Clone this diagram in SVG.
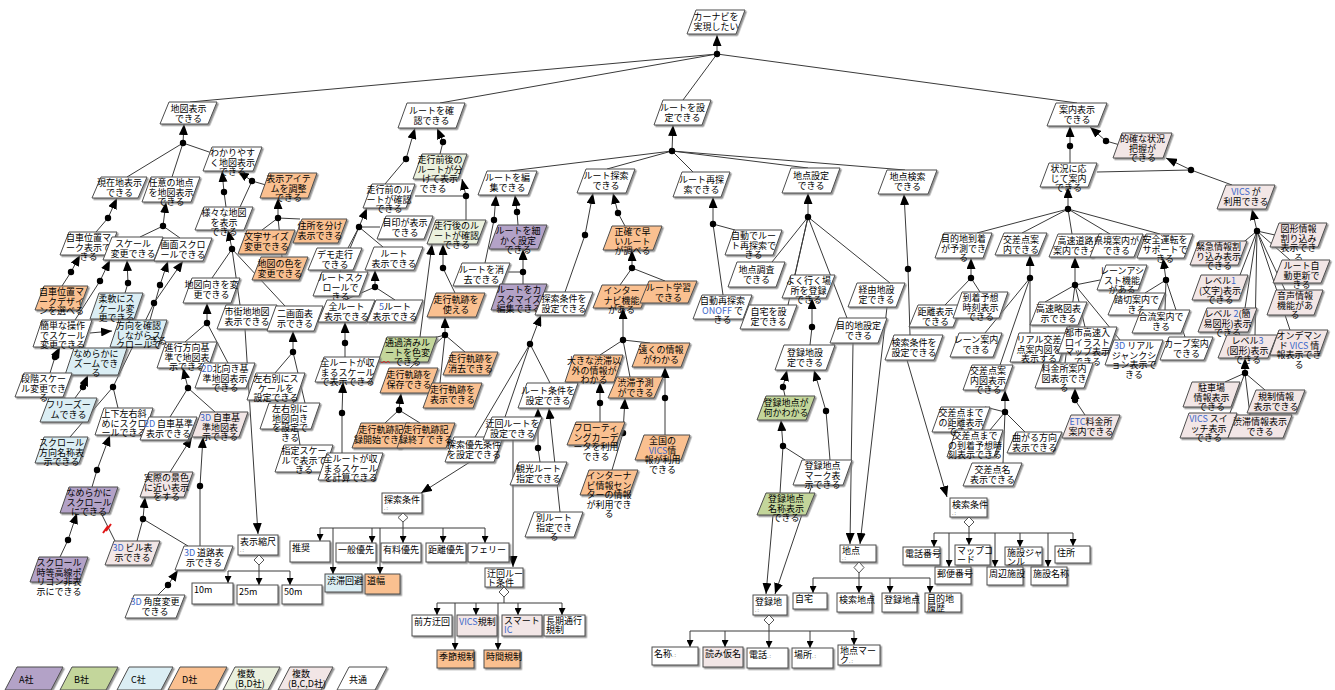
<svg xmlns="http://www.w3.org/2000/svg" width="1335" height="690" viewBox="0 0 1335 690">
<defs>
<filter id="sh" x="-10%" y="-10%" width="130%" height="150%"><feDropShadow dx="1.5" dy="1.5" stdDeviation="0.5" flood-color="#7a7a7a" flood-opacity="0.8"/></filter>
<marker id="a" viewBox="0 0 11 9" refX="11" refY="4.5" markerWidth="11" markerHeight="9" markerUnits="userSpaceOnUse" orient="auto"><path d="M0,0L11,4.5L0,9z" fill="#000"/></marker>
<marker id="s" viewBox="0 0 7 7" refX="7" refY="3.5" markerWidth="7" markerHeight="7" markerUnits="userSpaceOnUse" orient="auto"><path d="M0,0L7,3.5L0,7z" fill="#000"/></marker>
</defs>
<style>
text{font-family:"Noto Sans CJK JP","Noto Sans",sans-serif;font-size:9px;fill:#000}
.n polygon,.r rect{stroke:#4d4d4d;stroke-width:1;filter:url(#sh)}
.n text{text-anchor:middle}
.w polygon,.r rect{fill:#fff}
.p polygon{fill:#b3a2c7}
.g polygon{fill:#c3d69b}
.b polygon,.rb rect{fill:#dbeef4}
.o polygon,.ro rect{fill:#fac090}
.c polygon{fill:#ebf1de}
.k polygon,.rk rect{fill:#f2e6e6}
.e{fill:#3d68c9}
#links path{stroke:#3a3a3a;stroke-width:1;fill:none}
#links .ar{marker-end:url(#a)}
#links .sa{marker-end:url(#s)}
#links circle{fill:#000}
.dm{fill:#fff;stroke:#555}
.dt{font-size:5px;fill:#777}
.lg text{text-anchor:start}
</style>
<rect width="1335" height="690" fill="#fff"/>

<g id="links">
<!-- goal refinements: arrow into parent, dot, lines to children -->
<path class="ar" d="M717,54L717,35"/><path d="M717,54L190,102M717,54L440,103M717,54L683,100M717,54L1077,103"/><circle cx="717" cy="54" r="3.2"/>
<path class="ar" d="M183,143L184,124"/><path d="M183,143L127,177M183,143L172,177M183,143L212,153"/><circle cx="183" cy="143" r="3.2"/>
<path class="ar" d="M252,181L238,171"/><path d="M252,181L266,185M252,181L240,207"/><circle cx="252" cy="181" r="3.2"/>
<path class="ar" d="M224,192L222,171"/><path d="M224,192L226,207"/><circle cx="224" cy="192" r="3.2"/>
<path class="ar" d="M278,218L278,198"/><path d="M278,218L262,230M278,218L300,219M278,218L282,257"/><circle cx="278" cy="218" r="3.2"/>
<path class="ar" d="M108,218L117,198"/><path d="M108,218L96,232"/><circle cx="108" cy="218" r="3.2"/>
<path class="ar" d="M71,272L80,255"/><path d="M71,272L62,286"/><circle cx="71" cy="272" r="3.2"/>
<path class="ar" d="M163,226L166,202"/><path d="M163,226L140,237M163,226L180,238"/><circle cx="163" cy="226" r="3.2"/>
<path class="ar" d="M100,281L110,260"/><path d="M100,281L75,320"/><circle cx="100" cy="281" r="3.2"/>
<path class="ar" d="M128,283L127,260"/><path d="M128,283L125,293"/><circle cx="128" cy="283" r="3.2"/>
<path class="ar" d="M90,333L112,331"/>
<path class="ar" d="M55,357L60,347"/><path d="M55,357L50,373"/><circle cx="55" cy="357" r="3.2"/>
<path class="ar" d="M83,387L88,375"/><path d="M83,387L75,398"/><circle cx="83" cy="387" r="3.2"/>
<path class="ar" d="M160,285L168,261"/><path d="M160,285L150,320"/><circle cx="160" cy="285" r="3.2"/>
<path class="ar" d="M154,303L183,261"/><path d="M154,303L113,387L118,408M113,387L70,437"/><circle cx="154" cy="303" r="3.2"/><circle cx="113" cy="387" r="3.2"/>
<path class="ar" d="M97,470L110,435"/><path d="M97,470L92,487"/><circle cx="97" cy="470" r="3.2"/>
<path class="ar" d="M68,540L77,513"/><path d="M68,540L60,557"/><circle cx="68" cy="540" r="3.2"/>
<path d="M101,513L115,541"/>
<path class="ar" d="M232,249L228,230"/><path d="M232,249L212,278M232,249L240,305M232,249L285,306"/><circle cx="232" cy="249" r="3.2"/>
<path class="ar" d="M207,323L207,303"/><path d="M207,323L185,342M207,323L228,363"/><circle cx="207" cy="323" r="3.2"/>
<path class="ar" d="M188,388L183,368"/><path d="M188,388L170,417M188,388L215,412"/><circle cx="188" cy="388" r="3.2"/>
<path class="ar" d="M170,472L192,437"/>
<path class="ar" d="M200,486L203,437"/><path d="M200,486L200,546"/><circle cx="200" cy="486" r="3.2"/>
<path class="ar" d="M143,519L145,497"/><path d="M143,519L137,541M143,519L188,546"/><circle cx="143" cy="519" r="3.2"/>
<path class="ar" d="M168,585L178,570"/><path d="M168,585L158,595"/><circle cx="168" cy="585" r="3.2"/>
<path class="ar" d="M293,352L293,331"/><path d="M293,352L275,373M293,352L305,403"/><circle cx="293" cy="352" r="3.2"/>
<path d="M293,400L300,445"/>
<path class="ar" d="M245,329L258,534"/>
<path class="ar" d="M406,159L415,128"/><path d="M406,159L385,184"/><circle cx="406" cy="159" r="3.2"/>
<path class="ar" d="M443,142L437,128"/><path d="M443,142L440,154"/><circle cx="443" cy="142" r="3.2"/>
<path class="ar" d="M466,196L462,179"/><path d="M466,196L466,220M466,196L415,196"/><circle cx="466" cy="196" r="3.2"/>
<path class="ar" d="M359,227L367,208"/><path d="M359,227L380,227M359,227L383,247M359,227L348,248M359,227L340,272"/><circle cx="359" cy="227" r="3.2"/>
<path class="ar" d="M375,287L375,270"/><path d="M375,287L345,300M375,287L395,300"/><circle cx="375" cy="287" r="3.2"/>
<path class="ar" d="M345,343L345,322"/><path d="M345,343L345,357"/><circle cx="345" cy="343" r="3.2"/>
<path class="ar" d="M342,413L343,382"/><path d="M342,413L342,453"/><circle cx="342" cy="413" r="3.2"/>
<path class="ar" d="M420,337L432,244"/>
<path class="ar" d="M443,268L443,244"/><path d="M443,268L455,293"/><circle cx="443" cy="268" r="3.2"/>
<path class="ar" d="M445,335L445,317"/><path d="M445,335L425,340M445,335L465,352M445,335L410,368M445,335L440,383"/><circle cx="445" cy="335" r="3.2"/>
<path class="ar" d="M399,410L401,393"/><path d="M399,410L385,423M399,410L420,423"/><circle cx="399" cy="410" r="3.2"/>
<path class="ar" d="M672,151L673,125"/><path d="M672,151L510,171M672,151L607,169M672,151L693,172M672,151L808,168M672,151L905,170"/><circle cx="672" cy="151" r="3.2"/>
<path class="ar" d="M494,220L496,195"/><path d="M494,220L485,263"/><circle cx="494" cy="220" r="3.2"/>
<path class="ar" d="M517,212L515,195"/><path d="M517,212L518,225"/><circle cx="517" cy="212" r="3.2"/>
<path class="ar" d="M523,272L523,249"/><path d="M523,272L523,284M523,272L508,272"/><circle cx="523" cy="272" r="3.2"/>
<path class="ar" d="M585,235L593,193"/><path d="M585,235L565,292"/><circle cx="585" cy="235" r="3.2"/>
<path class="ar" d="M618,213L613,193"/><path d="M618,213L625,226"/><circle cx="618" cy="213" r="3.2"/>
<path class="ar" d="M632,268L632,250"/><path d="M632,268L620,285M632,268L665,281"/><circle cx="632" cy="268" r="3.2"/>
<path class="ar" d="M623,340L623,308"/><path d="M623,340L600,355M623,340L650,343M623,340L630,377"/><circle cx="623" cy="340" r="3.2"/>
<path class="ar" d="M600,403L600,382"/><path d="M600,403L600,422"/><circle cx="600" cy="403" r="3.2"/>
<path class="ar" d="M623,433L625,398"/><path d="M623,433L612,470"/><circle cx="623" cy="433" r="3.2"/>
<path class="ar" d="M665,398L665,367"/><path d="M665,398L665,435"/><circle cx="665" cy="398" r="3.2"/>
<path class="ar" d="M530,344L541,315"/><path d="M530,344L550,383M530,344L475,437M530,344L505,417"/><circle cx="530" cy="344" r="3.2"/>
<path class="ar" d="M538,448L538,408"/><path d="M538,448L540,462"/><circle cx="538" cy="448" r="3.2"/>
<path class="ar" d="M560,512L549,408"/>
<path class="ar" d="M470,462L421,493"/>
<path class="ar" d="M513,440L513,567"/>
<path class="ar" d="M713,224L713,197"/><path d="M713,224L735,230M713,224L723,295"/><circle cx="713" cy="224" r="3.2"/>
<path class="ar" d="M808,217L808,193"/><path d="M808,217L772,262M808,217L788,305M808,217L795,275M808,217L847,318M808,217L890,283"/><circle cx="808" cy="217" r="3.2"/>
<path class="ar" d="M812,327L812,298"/><path d="M812,327L810,345"/><circle cx="812" cy="327" r="3.2"/>
<path class="ar" d="M783,387L787,370"/><path d="M783,387L785,396"/><circle cx="783" cy="387" r="3.2"/>
<path class="ar" d="M826,411L814,370"/><path d="M826,411L830,460"/><circle cx="826" cy="411" r="3.2"/>
<path class="ar" d="M783,446L781,420"/><path d="M783,446L805,460M783,446L780,493"/><circle cx="783" cy="446" r="3.2"/>
<path class="ar" d="M908,269L904,194"/><path d="M908,269L910,335"/><circle cx="908" cy="269" r="3.2"/>
<path class="ar" d="M907,360L947,497"/>
<path class="ar" d="M773,515L766,594"/>
<path class="ar" d="M812,485L775,594"/>
<path class="ar" d="M853,343L850,544"/>
<path class="ar" d="M887,307L860,544"/>
<path class="ar" d="M1070,146L1070,126"/><path d="M1070,146L1070,163"/><circle cx="1070" cy="146" r="3.2"/>
<path class="ar" d="M1106,141L1090,127"/><path d="M1106,141L1120,145"/><circle cx="1106" cy="141" r="3.2"/>
<path class="ar" d="M1191,170L1166,158"/><path d="M1191,170L1097,172M1191,170L1232,185"/><circle cx="1191" cy="170" r="3.2"/>
<path class="ar" d="M1068,209L1068,187"/><path d="M1068,209L977,233M1068,209L1022,233M1068,209L1072,234M1068,209L1110,234M1068,209L1160,234"/><circle cx="1068" cy="209" r="3.2"/>
<path class="ar" d="M971,278L971,258"/><path d="M971,278L945,305M971,278L980,292"/><circle cx="971" cy="278" r="3.2"/>
<path class="ar" d="M1030,278L1030,255"/><path d="M1030,278L1030,333M1030,278L985,333M1030,278L1000,365"/><circle cx="1030" cy="278" r="3.2"/>
<path class="ar" d="M1075,285L1075,257"/><path d="M1075,285L1045,302M1075,285L1085,327M1075,285L1120,340M1075,285L1100,280M1075,285L1065,363"/><circle cx="1075" cy="285" r="3.2"/>
<path class="ar" d="M1075,400L1075,388"/><path d="M1075,400L1085,415"/><circle cx="1075" cy="400" r="3.2"/>
<path class="ar" d="M1166,280L1163,258"/><path d="M1166,280L1145,293M1166,280L1165,310M1166,280L1185,337"/><circle cx="1166" cy="280" r="3.2"/>
<path class="ar" d="M1005,412L1005,390"/><path d="M1005,412L985,407M1005,412L990,430M1005,412L1025,432M1005,412L1003,463"/><circle cx="1005" cy="412" r="3.2"/>
<path class="ar" d="M1257,231L1252,209"/><path d="M1257,231L1275,235M1257,231L1240,245M1257,231L1290,260M1257,231L1240,275M1257,231L1285,290M1257,231L1245,308M1257,231L1255,335M1257,231L1290,330"/><circle cx="1257" cy="231" r="3.2"/>
<path class="ar" d="M1245,373L1245,358"/><path d="M1245,373L1225,382M1245,373L1265,390M1245,373L1230,413M1245,373L1250,415"/><circle cx="1245" cy="373" r="3.2"/>
<!-- attribute trees of the data boxes -->
<path d="M259,565V571M228,571H290"/><path class="sa" d="M228,571V583"/><path class="sa" d="M259,571V585"/><path class="sa" d="M290,571V585"/>
<path d="M403,522V528M320,528H485"/><path class="sa" d="M320,528V541"/><path class="sa" d="M372,528V543"/><path class="sa" d="M403,528V543"/><path class="sa" d="M443,528V543"/><path class="sa" d="M485,528V543"/><path class="sa" d="M333,528V574"/><path class="sa" d="M380,528V574"/>
<path d="M504,597V603M437,603H562"/><path class="sa" d="M437,603V615"/><path class="sa" d="M476,603V615"/><path class="sa" d="M518,603V615"/><path class="sa" d="M562,603V615"/><path class="sa" d="M455,603V650"/><path class="sa" d="M498,603V650"/>
<path d="M859,573V578M813,578H930"/><path class="sa" d="M813,578V593"/><path class="sa" d="M859,578V593"/><path class="sa" d="M890,578V593"/><path class="sa" d="M930,578V593"/>
<path d="M769,625V631M690,631H854"/><path class="sa" d="M690,631V647"/><path class="sa" d="M725,631V647"/><path class="sa" d="M769,631V648"/><path class="sa" d="M810,631V648"/><path class="sa" d="M854,631V645"/>
<path d="M969,527V533M934,533H1073"/><path class="sa" d="M934,533V547"/><path class="sa" d="M969,533V545"/><path class="sa" d="M1020,533V547"/><path class="sa" d="M1073,533V546"/><path class="sa" d="M949,533V567"/><path class="sa" d="M995,533V567"/><path class="sa" d="M1048,533V567"/>
</g>

<g id="nodes">
<g id="n-root" class="n w" transform="translate(687,10)"><polygon points="9,0 58,0 49,24 0,24"/><text x="29" y="10">カーナビを<tspan x="29" dy="9.5">実現したい</tspan></text></g>
<g id="n-map" class="n w" transform="translate(160,102)"><polygon points="9,0 57,0 48,22 0,22"/><text x="28.5" y="10">地図表示<tspan x="28.5" dy="9.5">できる</tspan></text></g>
<g id="n-rchk" class="n w" transform="translate(398,103)"><polygon points="9,0 67,0 58,25 0,25"/><text x="33.5" y="11">ルートを確<tspan x="33.5" dy="9.5">認できる</tspan></text></g>
<g id="n-rset" class="n w" transform="translate(654,100)"><polygon points="9,0 57,0 48,25 0,25"/><text x="28.5" y="11">ルートを設<tspan x="28.5" dy="9.5">定できる</tspan></text></g>
<g id="n-guide" class="n w" transform="translate(1047,103)"><polygon points="9,0 60,0 51,23 0,23"/><text x="30" y="10">案内表示<tspan x="30" dy="9.5">できる</tspan></text></g>

<g id="n-cur" class="n w" transform="translate(92,177)"><polygon points="9,0 55,0 46,21 0,21"/><text x="27.5" y="9">現在地表示<tspan x="27.5" dy="9.5">できる</tspan></text></g>
<g id="n-any" class="n w" transform="translate(142,177)"><polygon points="9,0 58,0 49,25 0,25"/><text x="29" y="9">任意の地点<tspan x="29" dy="9.5">を地図表示</tspan><tspan x="29" dy="9.5">できる</tspan></text></g>
<g id="n-easy" class="n w" transform="translate(203,147)"><polygon points="9,0 59,0 50,24 0,24"/><text x="29.5" y="9">わかりやす<tspan x="29.5" dy="9.5">く地図表示</tspan><tspan x="29.5" dy="9.5">できる</tspan></text></g>
<g id="n-item" class="n o" transform="translate(260,173)"><polygon points="9,0 57,0 48,25 0,25"/><text x="28.5" y="9">表示アイテ<tspan x="28.5" dy="9.5">ムを調整</tspan><tspan x="28.5" dy="9.5">できる</tspan></text></g>
<g id="n-various" class="n w" transform="translate(195,207)"><polygon points="9,0 58,0 49,23 0,23"/><text x="29" y="9">様々な地図<tspan x="29" dy="9.5">を表示</tspan><tspan x="29" dy="9.5">できる</tspan></text></g>
<g id="n-font" class="n o" transform="translate(238,230)"><polygon points="9,0 57,0 48,24 0,24"/><text x="28.5" y="10">文字サイズ<tspan x="28.5" dy="9.5">変更できる</tspan></text></g>
<g id="n-addr" class="n o" transform="translate(293,219)"><polygon points="9,0 54,0 45,24 0,24"/><text x="27" y="10">住所を分け<tspan x="27" dy="9.5">表示できる</tspan></text></g>
<g id="n-color" class="n o" transform="translate(252,257)"><polygon points="9,0 56,0 47,23 0,23"/><text x="28" y="10">地図の色を<tspan x="28" dy="9.5">変更できる</tspan></text></g>
<g id="n-mark" class="n w" transform="translate(60,232)"><polygon points="9,0 57,0 48,23 0,23"/><text x="28.5" y="9">自車位置マ<tspan x="28.5" dy="9.5">ーク表示で</tspan><tspan x="28.5" dy="9.5">きる</tspan></text></g>
<g id="n-markd" class="n o" transform="translate(35,286)"><polygon points="9,0 53,0 44,24 0,24"/><text x="26.5" y="9">自車位置マ<tspan x="26.5" dy="9.5">ークデザイ</tspan><tspan x="26.5" dy="9.5">ンを選べる</tspan></text></g>
<g id="n-scale" class="n w" transform="translate(103,237)"><polygon points="9,0 60,0 51,23 0,23"/><text x="30" y="10">スケール<tspan x="30" dy="9.5">変更できる</tspan></text></g>
<g id="n-scroll" class="n w" transform="translate(154,238)"><polygon points="9,0 58,0 49,23 0,23"/><text x="29" y="10">画面スクロ<tspan x="29" dy="9.5">ールできる</tspan></text></g>
<g id="n-flex" class="n b" transform="translate(90,293)"><polygon points="9,0 53,0 44,26 0,26"/><text x="26.5" y="9">柔軟にス<tspan x="26.5" dy="9.5">ケール変</tspan><tspan x="26.5" dy="9.5">更できる</tspan></text></g>
<g id="n-simple" class="n w" transform="translate(33,320)"><polygon points="9,0 59,0 50,27 0,27"/><text x="29.5" y="9">簡単な操作<tspan x="29.5" dy="9.5">でスケール</tspan><tspan x="29.5" dy="9.5">変更できる</tspan></text></g>
<g id="n-dirscr" class="n b" transform="translate(110,320)"><polygon points="9,0 57,0 48,27 0,27"/><text x="28.5" y="9">方向を確認<tspan x="28.5" dy="9.5">しながらス</tspan><tspan x="28.5" dy="9.5">クロールで</tspan><tspan x="48" dy="-4">きる</tspan></text></g>
<g id="n-zoom" class="n b" transform="translate(65,348)"><polygon points="9,0 62,0 53,27 0,27"/><text x="31" y="9">なめらかに<tspan x="31" dy="9.5">ズームでき</tspan><tspan x="31" dy="9.5">る</tspan></text></g>
<g id="n-step" class="n w" transform="translate(15,373)"><polygon points="9,0 57,0 48,24 0,24"/><text x="28.5" y="9">段階スケー<tspan x="28.5" dy="9.5">ル変更でき</tspan><tspan x="28.5" dy="9.5">る</tspan></text></g>
<g id="n-freez" class="n b" transform="translate(40,398)"><polygon points="9,0 57,0 48,24 0,24"/><text x="28.5" y="10">フリーズー<tspan x="28.5" dy="9.5">ムできる</tspan></text></g>
<g id="n-updown" class="n w" transform="translate(95,408)"><polygon points="9,0 58,0 49,27 0,27"/><text x="29" y="9">上下左右斜<tspan x="29" dy="9.5">めにスクロ</tspan><tspan x="29" dy="9.5">ールできる</tspan></text></g>
<g id="n-scrdir" class="n b" transform="translate(35,437)"><polygon points="9,0 53,0 44,26 0,26"/><text x="26.5" y="9">スクロール<tspan x="26.5" dy="9.5">方向名称表</tspan><tspan x="26.5" dy="9.5">示できる</tspan></text></g>
<g id="n-smooth" class="n p" transform="translate(60,487)"><polygon points="9,0 58,0 49,26 0,26"/><text x="29" y="9">なめらかに<tspan x="29" dy="9.5">スクロール</tspan><tspan x="29" dy="9.5">にできる</tspan></text></g>
<g id="n-poly" class="n p" transform="translate(30,557)"><polygon points="9,0 58,0 49,25 0,25"/><text x="29" y="9">スクロール<tspan x="29" dy="9.5">時等高線ポ</tspan><tspan x="29" dy="9.5">リゴン非表</tspan><tspan x="29" dy="9.5">示にできる</tspan></text></g>
<g id="n-orient" class="n w" transform="translate(183,278)"><polygon points="9,0 57,0 48,25 0,25"/><text x="28.5" y="10">地図向きを変<tspan x="28.5" dy="9.5">更できる</tspan></text></g>
<g id="n-city" class="n w" transform="translate(217,305)"><polygon points="9,0 60,0 51,24 0,24"/><text x="30" y="10">市街地地図<tspan x="30" dy="9.5">表示できる</tspan></text></g>
<g id="n-dual" class="n w" transform="translate(267,306)"><polygon points="9,0 56,0 47,25 0,25"/><text x="28" y="11">二画面表<tspan x="28" dy="9.5">示できる</tspan></text></g>
<g id="n-heading" class="n w" transform="translate(157,342)"><polygon points="9,0 60,0 51,26 0,26"/><text x="30" y="9">進行方向基<tspan x="30" dy="9.5">準で地図表</tspan><tspan x="30" dy="9.5">示できる</tspan></text></g>
<g id="n-north" class="n w" transform="translate(195,363)"><polygon points="9,0 60,0 51,25 0,25"/><text x="30" y="9"><tspan class="e">2D</tspan>北向き基<tspan x="30" dy="9.5">準地図表示</tspan><tspan x="30" dy="9.5">できる</tspan></text></g>
<g id="n-lrscale" class="n w" transform="translate(247,373)"><polygon points="9,0 58,0 49,27 0,27"/><text x="29" y="9">左右別にス<tspan x="29" dy="9.5">ケールを</tspan><tspan x="29" dy="9.5">設定できる</tspan></text></g>
<g id="n-lrorient" class="n w" transform="translate(260,403)"><polygon points="9,0 60,0 51,26 0,26"/><text x="30" y="9">左右別に<tspan x="30" dy="9.5">地図向き</tspan><tspan x="30" dy="9.5">を設定で</tspan><tspan x="30" dy="9.5">きる</tspan></text></g>
<g id="n-car2d" class="n w" transform="translate(140,417)"><polygon points="9,0 57,0 48,23 0,23"/><text x="28.5" y="10"><tspan class="e">2D</tspan> 自車基準<tspan x="28.5" dy="9.5">表示できる</tspan></text></g>
<g id="n-car3d" class="n k" transform="translate(192,412)"><polygon points="9,0 56,0 47,25 0,25"/><text x="28" y="9"><tspan class="e">3D</tspan> 自車基<tspan x="28" dy="9.5">準地図表</tspan><tspan x="28" dy="9.5">示できる</tspan></text></g>
<g id="n-fixsc" class="n w" transform="translate(275,445)"><polygon points="9,0 58,0 49,27 0,27"/><text x="29" y="9">指定スケー<tspan x="29" dy="9.5">ルで表示で</tspan><tspan x="29" dy="9.5">きる</tspan></text></g>
<g id="n-real" class="n k" transform="translate(140,472)"><polygon points="9,0 53,0 44,25 0,25"/><text x="26.5" y="9">実際の景色<tspan x="26.5" dy="9.5">に近い表示</tspan><tspan x="26.5" dy="9.5">をする</tspan></text></g>
<g id="n-bld3d" class="n k" transform="translate(105,541)"><polygon points="9,0 55,0 46,24 0,24"/><text x="27.5" y="10"><tspan class="e">3D</tspan> ビル表<tspan x="27.5" dy="9.5">示できる</tspan></text></g>
<g id="n-road3d" class="n w" transform="translate(175,546)"><polygon points="9,0 58,0 49,24 0,24"/><text x="29" y="10"><tspan class="e">3D</tspan> 道路表<tspan x="29" dy="9.5">示できる</tspan></text></g>
<g id="n-ang3d" class="n w" transform="translate(125,595)"><polygon points="9,0 60,0 51,23 0,23"/><text x="30" y="10"><tspan class="e">3D</tspan> 角度変更<tspan x="30" dy="9.5">できる</tspan></text></g>

<g id="n-beforeafter" class="n c" transform="translate(413,154)"><polygon points="9,0 54,0 45,25 0,25"/><text x="27" y="9">走行前後の<tspan x="27" dy="9.5">ルートが分</tspan><tspan x="27" dy="9.5">けて表示</tspan><tspan x="20" dy="9.5">できる</tspan></text></g>
<g id="n-before" class="n w" transform="translate(363,184)"><polygon points="9,0 52,0 43,24 0,24"/><text x="26" y="9">走行前のル<tspan x="26" dy="9.5">ートが確認</tspan><tspan x="26" dy="9.5">できる</tspan></text></g>
<g id="n-after" class="n c" transform="translate(427,220)"><polygon points="9,0 59,0 50,24 0,24"/><text x="29.5" y="9">走行後のル<tspan x="29.5" dy="9.5">ートが確認</tspan><tspan x="29.5" dy="9.5">できる</tspan></text></g>
<g id="n-landmark" class="n w" transform="translate(377,216)"><polygon points="9,0 56,0 47,23 0,23"/><text x="28" y="10">目印が表示<tspan x="28" dy="9.5">できる</tspan></text></g>
<g id="n-rshow" class="n w" transform="translate(365,247)"><polygon points="9,0 58,0 49,23 0,23"/><text x="29" y="10">ルート<tspan x="29" dy="9.5">表示できる</tspan></text></g>
<g id="n-demo" class="n w" transform="translate(308,248)"><polygon points="9,0 54,0 45,22 0,22"/><text x="27" y="10">デモ走行<tspan x="27" dy="9.5">できる</tspan></text></g>
<g id="n-rscroll" class="n w" transform="translate(313,272)"><polygon points="9,0 55,0 46,24 0,24"/><text x="27.5" y="9">ルートスク<tspan x="27.5" dy="9.5">ロールで</tspan><tspan x="27.5" dy="9.5">きる</tspan></text></g>
<g id="n-allr" class="n w" transform="translate(318,300)"><polygon points="9,0 57,0 48,22 0,22"/><text x="28.5" y="10">全ルート<tspan x="28.5" dy="9.5">表示できる</tspan></text></g>
<g id="n-r5" class="n w" transform="translate(367,300)"><polygon points="9,0 56,0 47,22 0,22"/><text x="28" y="10"><tspan class="e">5</tspan>ルート<tspan x="28" dy="9.5">表示できる</tspan></text></g>
<g id="n-track" class="n o" transform="translate(427,293)"><polygon points="9,0 58,0 49,24 0,24"/><text x="29" y="10">走行軌跡を<tspan x="29" dy="9.5">使える</tspan></text></g>
<g id="n-passed" class="n g" transform="translate(378,337)"><polygon points="9,0 59,0 50,25 0,25"/><text x="29.5" y="9">通過済みル<tspan x="29.5" dy="9.5">ートを色変</tspan><tspan x="29.5" dy="9.5">できる</tspan></text><path d="M0,26l2,-2 2,2 2,-2 2,2 2,-2 2,2" fill="none" stroke="#e02020" stroke-width="0.8"/></g>
<g id="n-allfit" class="n w" transform="translate(315,357)"><polygon points="9,0 65,0 56,25 0,25"/><text x="32.5" y="9">全ルートが収<tspan x="32.5" dy="9.5">まるスケール</tspan><tspan x="32.5" dy="9.5">で表示できる</tspan></text></g>
<g id="n-tsave" class="n o" transform="translate(380,368)"><polygon points="9,0 58,0 49,25 0,25"/><text x="29" y="10">走行軌跡を<tspan x="29" dy="9.5">保存できる</tspan></text></g>
<g id="n-tdel" class="n o" transform="translate(443,352)"><polygon points="9,0 55,0 46,23 0,23"/><text x="27.5" y="10">走行軌跡を<tspan x="27.5" dy="9.5">消去できる</tspan></text></g>
<g id="n-tshow" class="n o" transform="translate(423,383)"><polygon points="9,0 59,0 50,25 0,25"/><text x="29.5" y="10">走行軌跡を<tspan x="29.5" dy="9.5">表示できる</tspan></text></g>
<g id="n-tstart" class="n o" transform="translate(352,423)"><polygon points="9,0 58,0 49,25 0,25"/><text x="29" y="10">走行軌跡記<tspan x="29" dy="9.5">録開始できる</tspan></text></g>
<g id="n-tend" class="n o" transform="translate(397,423)"><polygon points="9,0 58,0 49,25 0,25"/><text x="29" y="10">走行軌跡記<tspan x="29" dy="9.5">録終了できる</tspan></text></g>
<g id="n-allcalc" class="n w" transform="translate(318,453)"><polygon points="9,0 65,0 56,27 0,27"/><text x="32.5" y="9">全ルートが収<tspan x="32.5" dy="9.5">まるスケール</tspan><tspan x="32.5" dy="9.5">を計算できる</tspan></text></g>

<g id="n-redit" class="n w" transform="translate(478,171)"><polygon points="9,0 59,0 50,24 0,24"/><text x="29.5" y="10">ルートを編<tspan x="29.5" dy="9.5">集できる</tspan></text></g>
<g id="n-rsearch" class="n w" transform="translate(577,169)"><polygon points="9,0 58,0 49,24 0,24"/><text x="29" y="10">ルート探索<tspan x="29" dy="9.5">できる</tspan></text></g>
<g id="n-rfine" class="n p" transform="translate(489,225)"><polygon points="9,0 58,0 49,24 0,24"/><text x="29" y="9">ルートを細<tspan x="29" dy="9.5">かく設定</tspan><tspan x="29" dy="9.5">できる</tspan></text></g>
<g id="n-rdel" class="n w" transform="translate(453,263)"><polygon points="9,0 57,0 48,23 0,23"/><text x="28.5" y="10">ルートを消<tspan x="28.5" dy="9.5">去できる</tspan></text></g>
<g id="n-rcust" class="n p" transform="translate(491,284)"><polygon points="9,0 56,0 47,26 0,26"/><text x="28" y="9">ルートをカ<tspan x="28" dy="9.5">スタマイズ</tspan><tspan x="28" dy="9.5">編集できる</tspan></text></g>
<g id="n-fast" class="n o" transform="translate(603,226)"><polygon points="9,0 59,0 50,24 0,24"/><text x="29.5" y="9">正確で早<tspan x="29.5" dy="9.5">いルート</tspan><tspan x="29.5" dy="9.5">が調べる</tspan></text></g>
<g id="n-cond" class="n w" transform="translate(535,292)"><polygon points="9,0 58,0 49,23 0,23"/><text x="29" y="10">探索条件を<tspan x="29" dy="9.5">設定できる</tspan></text></g>
<g id="n-inavi" class="n o" transform="translate(593,285)"><polygon points="9,0 57,0 48,23 0,23"/><text x="28.5" y="9">インター<tspan x="28.5" dy="9.5">ナビ機能</tspan><tspan x="28.5" dy="9.5">がある</tspan></text></g>
<g id="n-learn" class="n o" transform="translate(640,281)"><polygon points="9,0 57,0 48,22 0,22"/><text x="28.5" y="10">ルート学習<tspan x="28.5" dy="9.5">できる</tspan></text></g>
<g id="n-bigjam" class="n o" transform="translate(565,355)"><polygon points="9,0 58,0 49,27 0,27"/><text x="29" y="9">大きな渋滞以<tspan x="29" dy="9.5">外の情報が</tspan><tspan x="29" dy="9.5">わかる</tspan></text></g>
<g id="n-far" class="n o" transform="translate(632,343)"><polygon points="9,0 58,0 49,24 0,24"/><text x="29" y="10">遠くの情報<tspan x="29" dy="9.5">がわかる</tspan></text></g>
<g id="n-jampred" class="n o" transform="translate(608,377)"><polygon points="9,0 55,0 46,21 0,21"/><text x="27.5" y="9">渋滞予測<tspan x="27.5" dy="9.5">ができる</tspan></text></g>
<g id="n-float" class="n o" transform="translate(567,422)"><polygon points="9,0 58,0 49,23 0,23"/><text x="29" y="9">フローティ<tspan x="29" dy="9.5">ングカーデ</tspan><tspan x="29" dy="9.5">ータを利用</tspan><tspan x="29" dy="9.5">できる</tspan></text></g>
<g id="n-vicsall" class="n o" transform="translate(635,435)"><polygon points="9,0 55,0 46,25 0,25"/><text x="27.5" y="9">全国の<tspan x="27.5" dy="9.5"><tspan class="e">VICS</tspan>情</tspan><tspan x="27.5" dy="9.5">報が利用</tspan><tspan x="27.5" dy="9.5">できる</tspan></text></g>
<g id="n-icenter" class="n o" transform="translate(580,470)"><polygon points="9,0 58,0 49,25 0,25"/><text x="29" y="9">インターナ<tspan x="29" dy="9.5">ビ情報セン</tspan><tspan x="29" dy="9.5">ターの情報</tspan><tspan x="29" dy="9.5">が利用でき</tspan><tspan x="29" dy="9.5">る</tspan></text></g>
<g id="n-prio" class="n w" transform="translate(445,437)"><polygon points="9,0 58,0 49,25 0,25"/><text x="29" y="11">探索優先条件<tspan x="29" dy="9.5">を設定できる</tspan></text></g>
<g id="n-rcond" class="n w" transform="translate(518,383)"><polygon points="9,0 60,0 51,25 0,25"/><text x="30" y="11">ルート条件を<tspan x="30" dy="9.5">設定できる</tspan></text></g>
<g id="n-detour" class="n w" transform="translate(483,417)"><polygon points="9,0 59,0 50,23 0,23"/><text x="29.5" y="10">迂回ルートを<tspan x="29.5" dy="9.5">設定できる</tspan></text></g>
<g id="n-sight" class="n w" transform="translate(510,462)"><polygon points="9,0 57,0 48,23 0,23"/><text x="28.5" y="10">観光ルート<tspan x="28.5" dy="9.5">指定できる</tspan></text></g>
<g id="n-alt" class="n w" transform="translate(525,512)"><polygon points="9,0 58,0 49,25 0,25"/><text x="29" y="9">別ルート<tspan x="29" dy="9.5">指定でき</tspan><tspan x="29" dy="9.5">る</tspan></text></g>

<g id="n-resrch" class="n w" transform="translate(673,172)"><polygon points="9,0 57,0 48,25 0,25"/><text x="28.5" y="11">ルート再探<tspan x="28.5" dy="9.5">索できる</tspan></text></g>
<g id="n-auto" class="n w" transform="translate(725,230)"><polygon points="9,0 57,0 48,25 0,25"/><text x="28.5" y="9">自動でルー<tspan x="28.5" dy="9.5">ト再探索で</tspan><tspan x="28.5" dy="9.5">きる</tspan></text></g>
<g id="n-onoff" class="n w" transform="translate(693,295)"><polygon points="9,0 59,0 50,24 0,24"/><text x="29.5" y="9">自動再探索<tspan x="29.5" dy="9.5"><tspan class="e">ONOFF</tspan> で</tspan><tspan x="29.5" dy="9.5">きる</tspan></text></g>
<g id="n-pset" class="n w" transform="translate(782,168)"><polygon points="9,0 58,0 49,25 0,25"/><text x="29" y="11">地点設定<tspan x="29" dy="9.5">できる</tspan></text></g>
<g id="n-psearch" class="n w" transform="translate(878,170)"><polygon points="9,0 59,0 50,24 0,24"/><text x="29.5" y="10">地点検索<tspan x="29.5" dy="9.5">できる</tspan></text></g>
<g id="n-pinv" class="n w" transform="translate(728,262)"><polygon points="9,0 57,0 48,25 0,25"/><text x="28.5" y="11">地点調査<tspan x="28.5" dy="9.5">できる</tspan></text></g>
<g id="n-often" class="n w" transform="translate(782,275)"><polygon points="9,0 53,0 44,23 0,23"/><text x="26.5" y="9">よく行く場<tspan x="26.5" dy="9.5">所を登録</tspan><tspan x="26.5" dy="9.5">できる</tspan></text></g>
<g id="n-via" class="n w" transform="translate(848,283)"><polygon points="9,0 57,0 48,24 0,24"/><text x="28.5" y="10">経由地設<tspan x="28.5" dy="9.5">定できる</tspan></text></g>
<g id="n-dest" class="n w" transform="translate(830,318)"><polygon points="9,0 57,0 48,25 0,25"/><text x="28.5" y="11">目的地設定<tspan x="28.5" dy="9.5">できる</tspan></text></g>
<g id="n-home" class="n w" transform="translate(740,305)"><polygon points="9,0 57,0 48,24 0,24"/><text x="28.5" y="10">自宅を設<tspan x="28.5" dy="9.5">定できる</tspan></text></g>
<g id="n-reg" class="n w" transform="translate(775,345)"><polygon points="9,0 60,0 51,25 0,25"/><text x="30" y="11">登録地設<tspan x="30" dy="9.5">定できる</tspan></text></g>
<g id="n-regwhat" class="n g" transform="translate(757,396)"><polygon points="9,0 58,0 49,24 0,24"/><text x="29" y="10">登録地点が<tspan x="29" dy="9.5">何かわかる</tspan></text></g>
<g id="n-regmark" class="n w" transform="translate(793,460)"><polygon points="9,0 59,0 50,25 0,25"/><text x="29.5" y="9">登録地点<tspan x="29.5" dy="9.5">マーク表</tspan><tspan x="29.5" dy="9.5">示できる</tspan></text></g>
<g id="n-regname" class="n g" transform="translate(757,493)"><polygon points="9,0 58,0 49,22 0,22"/><text x="29" y="9">登録地点<tspan x="29" dy="9.5">名称表示</tspan><tspan x="29" dy="9.5">できる</tspan></text></g>
<g id="n-scond" class="n w" transform="translate(885,335)"><polygon points="9,0 58,0 49,25 0,25"/><text x="29" y="11">検索条件を<tspan x="29" dy="9.5">設定できる</tspan></text></g>

<g id="n-exact" class="n k" transform="translate(1113,133)"><polygon points="9,0 59,0 50,25 0,25"/><text x="29.5" y="9">的確な状況<tspan x="29.5" dy="9.5">把握が</tspan><tspan x="29.5" dy="9.5">できる</tspan></text></g>
<g id="n-situ" class="n w" transform="translate(1040,163)"><polygon points="9,0 57,0 48,24 0,24"/><text x="28.5" y="9">状況に応<tspan x="28.5" dy="9.5">じて案内</tspan><tspan x="28.5" dy="9.5">できる</tspan></text></g>
<g id="n-vics" class="n k" transform="translate(1217,185)"><polygon points="9,0 58,0 49,24 0,24"/><text x="29" y="10"><tspan class="e">VICS</tspan> が<tspan x="29" dy="9.5">利用できる</tspan></text></g>
<g id="n-arrive" class="n w" transform="translate(935,233)"><polygon points="9,0 57,0 48,25 0,25"/><text x="28.5" y="9">目的地到着<tspan x="28.5" dy="9.5">が予測でき</tspan><tspan x="28.5" dy="9.5">る</tspan></text></g>
<g id="n-cross" class="n w" transform="translate(995,233)"><polygon points="9,0 52,0 43,22 0,22"/><text x="26" y="10">交差点案<tspan x="26" dy="9.5">内できる</tspan></text></g>
<g id="n-hwy" class="n w" transform="translate(1049,234)"><polygon points="9,0 53,0 44,23 0,23"/><text x="26.5" y="10">高速道路<tspan x="26.5" dy="9.5">案内できる</tspan></text></g>
<g id="n-pref" class="n w" transform="translate(1090,234)"><polygon points="9,0 53,0 44,23 0,23"/><text x="26.5" y="10">県境案内が<tspan x="26.5" dy="9.5">できる</tspan></text></g>
<g id="n-safe" class="n w" transform="translate(1137,234)"><polygon points="9,0 56,0 47,24 0,24"/><text x="28" y="9">安全運転を<tspan x="28" dy="9.5">サポートで</tspan><tspan x="28" dy="9.5">きる</tspan></text></g>
<g id="n-lane" class="n w" transform="translate(1097,265)"><polygon points="9,0 50,0 41,25 0,25"/><text x="25" y="9">レーンアシ<tspan x="25" dy="9.5">スト機能</tspan><tspan x="25" dy="9.5">がある</tspan></text></g>
<g id="n-dist" class="n w" transform="translate(909,305)"><polygon points="9,0 53,0 44,22 0,22"/><text x="26.5" y="10">距離表示<tspan x="26.5" dy="9.5">できる</tspan></text></g>
<g id="n-eta" class="n w" transform="translate(953,292)"><polygon points="9,0 55,0 46,26 0,26"/><text x="27.5" y="9">到着予想<tspan x="27.5" dy="9.5">時刻表示</tspan><tspan x="27.5" dy="9.5">できる</tspan></text></g>
<g id="n-lanei" class="n w" transform="translate(950,333)"><polygon points="9,0 52,0 43,24 0,24"/><text x="26" y="10">レーン案内<tspan x="26" dy="9.5">できる</tspan></text></g>
<g id="n-crossmap" class="n w" transform="translate(963,365)"><polygon points="9,0 50,0 41,25 0,25"/><text x="25" y="9">交差点案<tspan x="25" dy="9.5">内図表示</tspan><tspan x="25" dy="9.5">できる</tspan></text></g>
<g id="n-realx" class="n w" transform="translate(1010,333)"><polygon points="9,0 58,0 49,29 0,29"/><text x="29" y="10">リアル交差<tspan x="29" dy="9.5">点案内図を</tspan><tspan x="29" dy="9.5">表示する</tspan></text></g>
<g id="n-hwymap" class="n w" transform="translate(1030,302)"><polygon points="9,0 57,0 48,23 0,23"/><text x="28.5" y="10">高速略図表<tspan x="28.5" dy="9.5">示できる</tspan></text></g>
<g id="n-cityhwy" class="n w" transform="translate(1058,327)"><polygon points="9,0 59,0 50,26 0,26"/><text x="29.5" y="9">都市高速入<tspan x="29.5" dy="9.5">口イラスト</tspan><tspan x="29.5" dy="9.5">マップ表示</tspan><tspan x="29.5" dy="9.5">できる</tspan></text></g>
<g id="n-jct3d" class="n w" transform="translate(1105,340)"><polygon points="9,0 58,0 49,25 0,25"/><text x="29" y="9"><tspan class="e">3D</tspan> リアル<tspan x="29" dy="9.5">ジャンクシ</tspan><tspan x="29" dy="9.5">ョン表示で</tspan><tspan x="29" dy="9.5">きる</tspan></text></g>
<g id="n-toll" class="n w" transform="translate(1035,363)"><polygon points="9,0 58,0 49,25 0,25"/><text x="29" y="9">料金所案内<tspan x="29" dy="9.5">図表示でき</tspan><tspan x="29" dy="9.5">る</tspan></text></g>
<g id="n-etc" class="n k" transform="translate(1062,415)"><polygon points="9,0 58,0 49,23 0,23"/><text x="29" y="10"><tspan class="e">ETC</tspan>料金所<tspan x="29" dy="9.5">案内できる</tspan></text></g>
<g id="n-rail" class="n w" transform="translate(1108,293)"><polygon points="9,0 57,0 48,22 0,22"/><text x="28.5" y="10">踏切案内で<tspan x="28.5" dy="9.5">きる</tspan></text></g>
<g id="n-merge" class="n w" transform="translate(1132,310)"><polygon points="9,0 58,0 49,23 0,23"/><text x="29" y="10">合流案内で<tspan x="29" dy="9.5">きる</tspan></text></g>
<g id="n-curve" class="n w" transform="translate(1160,337)"><polygon points="9,0 53,0 44,23 0,23"/><text x="26.5" y="10">カーブ案内<tspan x="26.5" dy="9.5">できる</tspan></text></g>
<g id="n-xdist" class="n w" transform="translate(932,407)"><polygon points="9,0 58,0 49,25 0,25"/><text x="29" y="9">交差点まで<tspan x="29" dy="9.5">の距離表示</tspan><tspan x="29" dy="9.5">できる</tspan></text></g>
<g id="n-xeta" class="n w" transform="translate(947,430)"><polygon points="9,0 56,0 47,27 0,27"/><text x="28" y="9">交差点まで<tspan x="28" dy="9.5">の到着予想時</tspan><tspan x="28" dy="9.5">刻表示できる</tspan></text></g>
<g id="n-turn" class="n w" transform="translate(1007,432)"><polygon points="9,0 55,0 46,21 0,21"/><text x="27.5" y="9">曲がる方向<tspan x="27.5" dy="9.5">表示できる</tspan></text></g>
<g id="n-xname" class="n w" transform="translate(963,463)"><polygon points="9,0 59,0 50,23 0,23"/><text x="29.5" y="10">交差点名<tspan x="29.5" dy="9.5">表示できる</tspan></text></g>
<g id="n-gfx" class="n k" transform="translate(1270,223)"><polygon points="9,0 57,0 48,24 0,24"/><text x="28.5" y="9">図形情報<tspan x="28.5" dy="9.5">割り込み</tspan><tspan x="28.5" dy="9.5">表示でき</tspan><tspan x="28.5" dy="9.5">る</tspan></text></g>
<g id="n-emerg" class="n k" transform="translate(1190,241)"><polygon points="9,0 57,0 48,24 0,24"/><text x="28.5" y="9">緊急情報割<tspan x="28.5" dy="9.5">り込み表示</tspan><tspan x="28.5" dy="9.5">できる</tspan></text></g>
<g id="n-rauto" class="n k" transform="translate(1273,260)"><polygon points="9,0 57,0 48,23 0,23"/><text x="28.5" y="9">ルート自<tspan x="28.5" dy="9.5">動更新で</tspan><tspan x="28.5" dy="9.5">きる</tspan></text></g>
<g id="n-lv1" class="n k" transform="translate(1192,275)"><polygon points="9,0 56,0 47,25 0,25"/><text x="28" y="9">レベル<tspan class="e">1</tspan><tspan x="28" dy="9.5">(文字)表示</tspan><tspan x="28" dy="9.5">できる</tspan></text></g>
<g id="n-voice" class="n k" transform="translate(1267,290)"><polygon points="9,0 56,0 47,25 0,25"/><text x="28" y="9">音声情報<tspan x="28" dy="9.5">機能があ</tspan><tspan x="28" dy="9.5">る</tspan></text></g>
<g id="n-lv2" class="n k" transform="translate(1198,308)"><polygon points="9,0 59,0 50,24 0,24"/><text x="29.5" y="9">レベル <tspan class="e">2</tspan>(簡<tspan x="29.5" dy="9.5">易図形)表示</tspan><tspan x="29.5" dy="9.5">できる</tspan></text></g>
<g id="n-lv3" class="n k" transform="translate(1218,335)"><polygon points="9,0 59,0 50,23 0,23"/><text x="29.5" y="9">レベル<tspan class="e">3</tspan><tspan x="29.5" dy="9.5">(図形)表示</tspan><tspan x="29.5" dy="9.5">できる</tspan></text></g>
<g id="n-od" class="n k" transform="translate(1270,330)"><polygon points="9,0 58,0 49,25 0,25"/><text x="29" y="9">オンデマン<tspan x="29" dy="9.5">ド <tspan class="e">VICS</tspan> 情</tspan><tspan x="29" dy="9.5">報表示でき</tspan><tspan x="29" dy="9.5">る</tspan></text></g>
<g id="n-park" class="n k" transform="translate(1183,382)"><polygon points="9,0 57,0 48,25 0,25"/><text x="28.5" y="9">駐車場<tspan x="28.5" dy="9.5">情報表示</tspan><tspan x="28.5" dy="9.5">できる</tspan></text></g>
<g id="n-reg2" class="n k" transform="translate(1247,390)"><polygon points="9,0 58,0 49,23 0,23"/><text x="29" y="10">規制情報<tspan x="29" dy="9.5">表示できる</tspan></text></g>
<g id="n-vsw" class="n k" transform="translate(1180,413)"><polygon points="9,0 57,0 48,25 0,25"/><text x="28.5" y="9"><tspan class="e">VICS</tspan> スイ<tspan x="28.5" dy="9.5">ッチ表示</tspan><tspan x="28.5" dy="9.5">できる</tspan></text></g>
<g id="n-jam" class="n k" transform="translate(1228,415)"><polygon points="9,0 64,0 55,23 0,23"/><text x="32" y="10">渋滞情報表示<tspan x="32" dy="9.5">できる</tspan></text></g>

<!-- conflict mark between smooth scroll and 3D buildings -->
<path id="n-conflict" d="M103,533L108,526L106,531L111,524" fill="none" stroke="#e01818" stroke-width="2"/>

<!-- data boxes -->
<g id="r-scale" class="r" transform="translate(238,535)"><rect width="40" height="20"/><text x="2" y="10">表示縮尺</text><text class="dt" x="2" y="17">. :</text></g>
<path class="dm" d="M259,555L264,560L259,565L254,560z"/>
<g id="r-10m" class="r" transform="translate(192,583)"><rect width="41" height="21"/><text x="2" y="10">10m</text></g>
<g id="r-25m" class="r" transform="translate(237,585)"><rect width="41" height="19"/><text x="2" y="10">25m</text></g>
<g id="r-50m" class="r" transform="translate(282,585)"><rect width="40" height="19"/><text x="2" y="10">50m</text></g>
<g id="r-cond" class="r" transform="translate(382,493)"><rect width="40" height="20"/><text x="2" y="10">探索条件</text><text class="dt" x="2" y="17">. :</text></g>
<path class="dm" d="M403,513L408,517.5L403,522L398,517.5z"/>
<g id="r-rec" class="r" transform="translate(290,541)"><rect width="40" height="21"/><text x="2" y="10">推奨</text></g>
<g id="r-gen" class="r" transform="translate(336,543)"><rect width="40" height="19"/><text x="2" y="10">一般優先</text></g>
<g id="r-tollp" class="r" transform="translate(381,543)"><rect width="40" height="19"/><text x="2" y="10">有料優先</text></g>
<g id="r-distp" class="r" transform="translate(426,543)"><rect width="40" height="19"/><text x="2" y="10">距離優先</text></g>
<g id="r-ferry" class="r" transform="translate(468,543)"><rect width="41" height="19"/><text x="2" y="10">フェリー</text></g>
<g id="r-jamav" class="r rb" transform="translate(325,574)"><rect width="37" height="18"/><text x="2" y="10">渋滞回避</text></g>
<g id="r-width" class="r ro" transform="translate(365,574)"><rect width="35" height="20"/><text x="2" y="10">道幅</text></g>
<g id="r-det" class="r" transform="translate(485,568)"><rect width="38" height="19"/><text x="2" y="9">迂回ルー<tspan x="2" dy="8.5">ト条件</tspan></text></g>
<path class="dm" d="M504,587L509,592L504,597L499,592z"/>
<g id="r-fwd" class="r" transform="translate(412,615)"><rect width="40" height="21"/><text x="2" y="10">前方迂回</text></g>
<g id="r-vreg" class="r rk" transform="translate(457,615)"><rect width="40" height="21"/><text x="2" y="10"><tspan class="e">VICS</tspan>規制</text></g>
<g id="r-sic" class="r rk" transform="translate(502,615)"><rect width="40" height="21"/><text x="2" y="9">スマート<tspan class="e" x="2" dy="8.5">IC</tspan></text></g>
<g id="r-long" class="r" transform="translate(544,615)"><rect width="41" height="21"/><text x="2" y="9">長期通行<tspan x="2" dy="8.5">規制</tspan></text></g>
<g id="r-seas" class="r ro" transform="translate(437,650)"><rect width="37" height="18"/><text x="2" y="10">季節規制</text></g>
<g id="r-time" class="r ro" transform="translate(484,650)"><rect width="36" height="18"/><text x="2" y="10">時間規制</text></g>
<g id="r-pt" class="r" transform="translate(840,545)"><rect width="36" height="17"/><text x="2" y="9">地点</text><text class="dt" x="2" y="15">. :</text></g>
<path class="dm" d="M859,562L864,567.5L859,573L854,567.5z"/>
<g id="r-home" class="r" transform="translate(793,593)"><rect width="34" height="16"/><text x="2" y="9">自宅</text></g>
<g id="r-sp" class="r" transform="translate(837,593)"><rect width="35" height="19"/><text x="2" y="10">検索地点</text></g>
<g id="r-rp" class="r" transform="translate(882,593)"><rect width="35" height="19"/><text x="2" y="10">登録地点</text></g>
<g id="r-hist" class="r" transform="translate(925,593)"><rect width="36" height="19"/><text x="2" y="9">目的地<tspan x="2" dy="8.5">履歴</tspan></text></g>
<g id="r-reg" class="r" transform="translate(753,595)"><rect width="34" height="20"/><text x="2" y="10">登録地</text><text class="dt" x="2" y="17">. :</text></g>
<path class="dm" d="M769,615L774,620L769,625L764,620z"/>
<g id="r-name" class="r" transform="translate(652,647)"><rect width="46" height="18"/><text x="2" y="10">名称<tspan class="dt">. :</tspan></text></g>
<g id="r-kana" class="r rk" transform="translate(703,647)"><rect width="40" height="20"/><text x="2" y="10">読み仮名</text></g>
<g id="r-tel" class="r" transform="translate(747,648)"><rect width="41" height="20"/><text x="2" y="10">電話<tspan class="dt">. :</tspan></text></g>
<g id="r-place" class="r" transform="translate(792,648)"><rect width="41" height="20"/><text x="2" y="10">場所<tspan class="dt">. :</tspan></text></g>
<g id="r-mk" class="r" transform="translate(838,645)"><rect width="42" height="20"/><text x="2" y="9">地点マー<tspan x="2" dy="8.5">ク</tspan><tspan class="dt">. :</tspan></text></g>
<g id="r-sc" class="r" transform="translate(950,498)"><rect width="37" height="19"/><text x="2" y="10">検索条件</text><text class="dt" x="2" y="17">. :</text></g>
<path class="dm" d="M969,517L974,522L969,527L964,522z"/>
<g id="r-phone" class="r" transform="translate(903,547)"><rect width="37" height="18"/><text x="2" y="10">電話番号</text></g>
<g id="r-mapc" class="r" transform="translate(955,545)"><rect width="35" height="20"/><text x="2" y="9">マップコ<tspan x="2" dy="8.5">ード</tspan></text></g>
<g id="r-genre" class="r" transform="translate(1005,547)"><rect width="37" height="18"/><text x="2" y="9">施設ジャ<tspan x="2" dy="8.5">ンル</tspan></text></g>
<g id="r-addr" class="r" transform="translate(1055,546)"><rect width="35" height="17"/><text x="2" y="10">住所</text></g>
<g id="r-zip" class="r" transform="translate(935,567)"><rect width="36" height="17"/><text x="2" y="10">郵便番号</text></g>
<g id="r-near" class="r" transform="translate(987,567)"><rect width="36" height="18"/><text x="2" y="10">周辺施設</text></g>
<g id="r-fname" class="r" transform="translate(1031,567)"><rect width="36" height="18"/><text x="2" y="10">施設名称</text></g>
</g>

<!-- legend -->
<g id="legend" class="lg">
<g id="lg-a" class="n p" transform="translate(5,667)"><polygon points="12,0 58,0 46,23 0,23"/><text x="14" y="16">A社</text></g>
<g id="lg-b" class="n g" transform="translate(60,667)"><polygon points="12,0 58,0 46,23 0,23"/><text x="14" y="16">B社</text></g>
<g id="lg-c" class="n b" transform="translate(117,667)"><polygon points="12,0 56,0 44,23 0,23"/><text x="14" y="16">C社</text></g>
<g id="lg-d" class="n o" transform="translate(168,667)"><polygon points="12,0 59,0 47,23 0,23"/><text x="14" y="16">D社</text></g>
<g id="lg-bd" class="n c" transform="translate(223,667)"><polygon points="12,0 57,0 45,23 0,23"/><text x="14" y="10">複数<tspan x="12" dy="9.5">(B,D社)</tspan></text></g>
<g id="lg-bcd" class="n k" transform="translate(278,667)"><polygon points="12,0 55,0 43,23 0,23"/><text x="14" y="10">複数<tspan x="10" dy="9.5">(B,C,D社)</tspan></text></g>
<g id="lg-all" class="n w" transform="translate(337,667)"><polygon points="12,0 50,0 38,23 0,23"/><text x="12" y="16">共通</text></g>
</g>
</svg>
